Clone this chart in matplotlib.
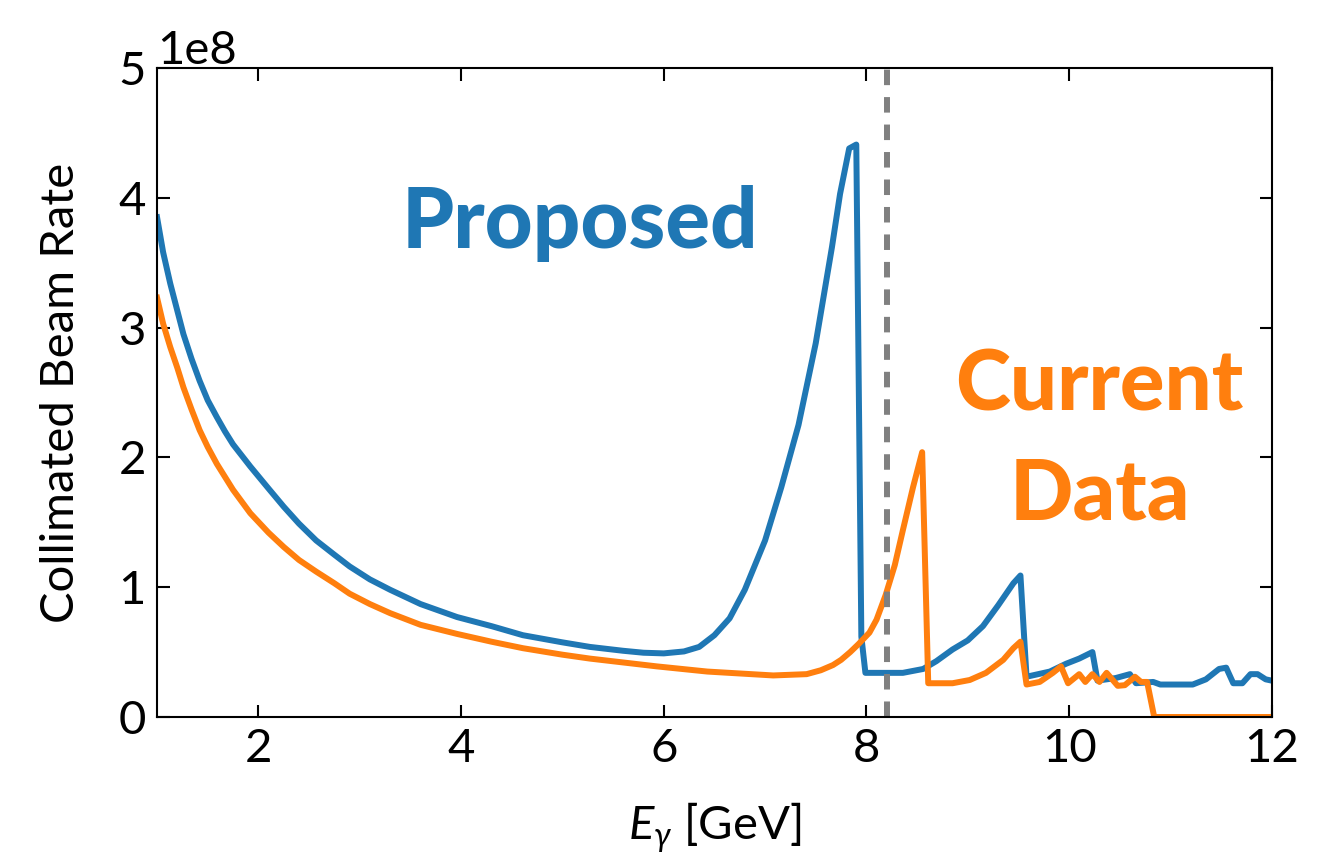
import numpy as np
import matplotlib
matplotlib.use('Agg')
import matplotlib.pyplot as plt

plt.rcParams['font.family'] = ['Lato', 'DejaVu Sans']
plt.rcParams['mathtext.fontset'] = 'custom'
plt.rcParams['mathtext.rm'] = 'Lato'
plt.rcParams['mathtext.it'] = 'Lato:italic'

# photon energy [GeV] and collimated beam rate [1e8 /s]
e_proposed = [1.00, 1.06, 1.13, 1.20, 1.26, 1.34, 1.42, 1.50, 1.59, 1.67, 1.75, 1.92,
              2.10, 2.25, 2.40, 2.57, 2.75, 2.90, 3.10, 3.30, 3.60, 3.96, 4.30, 4.61,
              5.00, 5.27, 5.60, 5.80, 6.00, 6.20, 6.35, 6.50, 6.65, 6.80, 7.00, 7.16,
              7.33, 7.50, 7.66, 7.74, 7.83, 7.90, 7.95, 7.99, 8.36, 8.56, 8.69, 8.85,
              9.00, 9.15, 9.30, 9.45, 9.52, 9.58, 9.81, 9.97, 10.10, 10.23, 10.28,
              10.46, 10.60, 10.66, 10.83, 10.90, 11.22, 11.35, 11.48, 11.55, 11.62,
              11.71, 11.79, 11.86, 11.94, 12.00]
rate_proposed = [3.85, 3.58, 3.34, 3.13, 2.95, 2.76, 2.59, 2.44, 2.31, 2.20, 2.10, 1.93,
                 1.76, 1.62, 1.49, 1.36, 1.25, 1.16, 1.06, 0.98, 0.87, 0.77, 0.70, 0.63,
                 0.575, 0.54, 0.51, 0.495, 0.49, 0.505, 0.54, 0.63, 0.76, 0.98, 1.36, 1.77,
                 2.25, 2.88, 3.62, 4.03, 4.38, 4.41, 0.62, 0.34, 0.34, 0.37, 0.43, 0.52,
                 0.59, 0.70, 0.86, 1.03, 1.09, 0.31, 0.35, 0.41, 0.45, 0.50, 0.28,
                 0.30, 0.33, 0.26, 0.27, 0.25, 0.25, 0.29, 0.37, 0.38, 0.26,
                 0.26, 0.33, 0.33, 0.29, 0.28]

e_current = [1.00, 1.06, 1.13, 1.20, 1.26, 1.34, 1.42, 1.50, 1.59, 1.67, 1.75, 1.92,
             2.10, 2.25, 2.40, 2.57, 2.75, 2.90, 3.10, 3.30, 3.60, 3.96, 4.30, 4.61,
             5.00, 5.27, 5.60, 5.93, 6.43, 7.08, 7.41, 7.55, 7.67, 7.75, 7.84, 7.92,
             8.03, 8.10, 8.19, 8.28, 8.36, 8.46, 8.55, 8.61, 8.85, 9.02, 9.18, 9.35,
             9.45, 9.52, 9.58, 9.71, 9.84, 9.92, 9.99, 10.10, 10.16, 10.23, 10.30,
             10.37, 10.48, 10.55, 10.65, 10.71, 10.77, 10.84, 12.00]
rate_current = [3.23, 3.03, 2.85, 2.69, 2.54, 2.37, 2.21, 2.08, 1.95, 1.85, 1.75, 1.57,
                1.42, 1.31, 1.21, 1.12, 1.03, 0.95, 0.87, 0.80, 0.71, 0.64, 0.58, 0.53,
                0.48, 0.45, 0.42, 0.39, 0.35, 0.32, 0.33, 0.36, 0.40, 0.44, 0.50, 0.56,
                0.65, 0.75, 0.94, 1.17, 1.44, 1.77, 2.04, 0.26, 0.26, 0.285, 0.34, 0.44,
                0.53, 0.58, 0.25, 0.27, 0.34, 0.39, 0.26, 0.33, 0.27, 0.33, 0.27,
                0.34, 0.24, 0.245, 0.31, 0.27, 0.27, 0.00, 0.00]

e_cut = 8.2

blue = '#1f77b4'
orange = '#ff7f0e'

fig = plt.figure(figsize=(13.22, 8.56), dpi=100)
ax = fig.add_axes([0.1188, 0.1624, 0.8432, 0.7582])

ax.plot(e_proposed, np.array(rate_proposed) * 1e8, color=blue, lw=4.3)
ax.plot(e_current, np.array(rate_current) * 1e8, color=orange, lw=4.3)
ax.axvline(e_cut, color='gray', ls=(0, (2.6, 2)), lw=4.3)

ax.text(5.17, 3.61e8, 'Proposed', color=blue, fontsize=60, fontweight='black',
        ha='center', va='baseline')
ax.text(10.3, 2.36e8, 'Current', color=orange, fontsize=60, fontweight='black',
        ha='center', va='baseline')
ax.text(10.3, 1.52e8, 'Data', color=orange, fontsize=60, fontweight='black',
        ha='center', va='baseline')

ax.set_xlim(1, 12)
ax.set_ylim(0, 5e8)
ax.set_xticks([2, 4, 6, 8, 10, 12])
ax.set_yticks([0, 1e8, 2e8, 3e8, 4e8, 5e8])
ax.tick_params(direction='in', top=True, right=True, length=9, width=1.5,
               labelsize=34, pad=8)
for sp in ax.spines.values():
    sp.set_linewidth(1.5)
ax.yaxis.get_offset_text().set_fontsize(34)

ax.set_xlabel(r'$E_\gamma$ [GeV]', fontsize=34, labelpad=22)
ax.set_ylabel('Collimated Beam Rate', fontsize=34, labelpad=26)

fig.savefig('out.png', dpi=100)
